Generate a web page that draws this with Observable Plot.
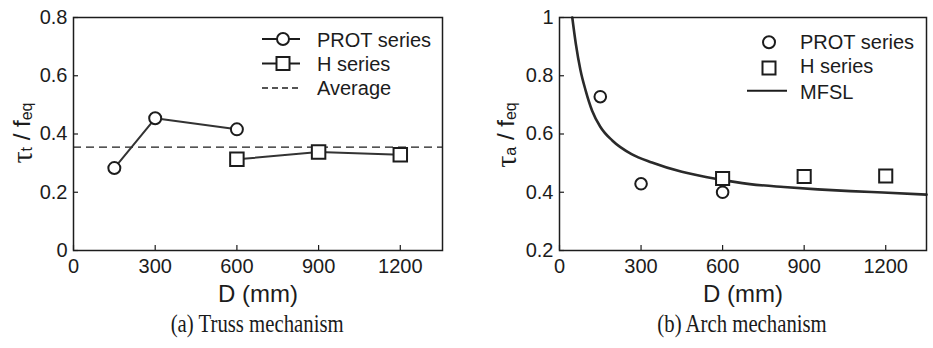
<!DOCTYPE html>
<html>
<head>
<meta charset="utf-8">
<script src="https://cdn.jsdelivr.net/npm/d3@7"></script>
<script src="https://cdn.jsdelivr.net/npm/@observablehq/plot@0.6"></script>
<style>
  html, body { margin: 0; padding: 0; background: #fff; }
  #wrap { display: flex; width: 933px; height: 348px; overflow: hidden; }
  figure { margin: 0; padding: 0; position: relative; }
  figcaption {
    font-family: "Liberation Serif", "Times New Roman", serif;
    font-size: 25px; line-height: 28px; color: #1a1a1a;
    text-align: center; white-space: nowrap;
    position: absolute; top: 310px;
  }
  figcaption span { display: inline-block; transform: scaleX(0.83); }
</style>
</head>
<body>
<div id="wrap"></div>
<script>
// ---- data ----
const xTicks = [0, 300, 600, 900, 1200];
const trussYTicks = [0, 0.2, 0.4, 0.6, 0.8];
const archYTicks = [0.2, 0.4, 0.6, 0.8, 1];

const protD = [150, 300, 600];
const protTruss = [0.283, 0.454, 0.416];
const hD = [600, 900, 1200];
const hTruss = [0.313, 0.338, 0.329];
const trussAverage = 0.355;

const protArch = [0.728, 0.429, 0.400];
const hArch = [0.447, 0.454, 0.456];
const mfslD = [47, 60, 77, 96, 120, 150, 195, 265, 340, 450, 580, 700, 825, 950, 1070, 1190, 1350];
const mfslArch = [1.0, 0.91, 0.82, 0.75, 0.68, 0.625, 0.577, 0.531, 0.502, 0.47, 0.445, 0.428, 0.418, 0.41, 0.404, 0.399, 0.392];

const seriesNames = ["PROT series", "H series"];
const trussLegend3 = "Average";
const archLegend3 = "MFSL";
const xLabel = "D (mm)";
const captions = ["(a) Truss mechanism", "(b) Arch mechanism"];

// ---- helpers ----
const ink = "#1c1c1c";
const zip = (xs, ys) => xs.map((x, i) => ({D: x, v: ys[i]}));
const fmt = d => String(+d.toFixed(1));
const H = 308, MT = 17, MB = 58;

function panel({width, ml, mr, yDomain, yTicks, xDomain, marks}) {
  const frameW = width - ml - mr, frameH = H - MT - MB;
  return Plot.plot({
    width, height: H,
    marginLeft: ml, marginRight: mr, marginTop: MT, marginBottom: MB,
    style: {fontFamily: "'Liberation Sans', Arial, sans-serif", fontSize: "20px", color: ink, background: "white", overflow: "visible"},
    x: {domain: xDomain, ticks: xTicks},
    y: {domain: yDomain, ticks: yTicks},
    marks: [
      Plot.axisX(xTicks, {tickSize: 0, tickPadding: 8, fontSize: 20, label: null, tickFormat: d => String(d), fill: ink}),
      Plot.axisY(yTicks, {tickSize: 0, tickPadding: 6, fontSize: 20, label: null, tickFormat: fmt, fill: ink}),
      Plot.tickX(xTicks, {x: d => d, insetTop: frameH - 5, stroke: ink, strokeWidth: 1.2}),
      Plot.tickY(yTicks, {y: d => d, insetRight: frameW - 5, stroke: ink, strokeWidth: 1.2}),
      ...marks,
      Plot.frame({stroke: ink, strokeWidth: 1.5}),
      Plot.text([xLabel], {text: d => d, frameAnchor: "bottom", lineAnchor: "middle", dy: 44, fontSize: 24, fill: ink})
    ]
  });
}

function yLabel(svg, x, y, sub1, sub2) {
  const t = d3.select(svg).append("text")
    .attr("transform", `translate(${x},${y}) rotate(-90)`)
    .attr("text-anchor", "middle")
    .attr("dominant-baseline", "central")
    .attr("fill", ink)
    .style("font-family", "'Liberation Sans', Arial, sans-serif")
    .style("font-size", "24px");
  t.append("tspan").text("τ").style("font-family", "'Liberation Serif', serif").style("font-size", "30px");
  t.append("tspan").text(sub1).attr("dy", 5).style("font-size", "16px");
  t.append("tspan").text(" / f").attr("dy", -5);
  t.append("tspan").text(sub2).attr("dy", 5).style("font-size", "16px");
}

function legendRow(g, kind, lineX1, lineX2, markX, y, textX, baseY, label, dashed) {
  if (kind.line) {
    g.append("line").attr("x1", lineX1).attr("x2", lineX2).attr("y1", y).attr("y2", y)
      .attr("stroke", ink).attr("stroke-width", dashed ? 1.3 : 2)
      .attr("stroke-dasharray", dashed ? "6,4" : null);
  }
  if (kind.symbol === "circle") {
    g.append("circle").attr("cx", markX).attr("cy", y).attr("r", 6)
      .attr("fill", "white").attr("stroke", ink).attr("stroke-width", 2);
  } else if (kind.symbol === "square") {
    g.append("rect").attr("x", markX - 6.5).attr("y", y - 6.5).attr("width", 13).attr("height", 13)
      .attr("fill", "white").attr("stroke", ink).attr("stroke-width", 2);
  }
  g.append("text").attr("x", textX).attr("y", baseY).text(label)
    .attr("text-anchor", "start")
    .attr("fill", ink).style("font-family", "'Liberation Sans', Arial, sans-serif").style("font-size", "20px");
}

// ---- (a) Truss ----
const protTrussData = zip(protD, protTruss);
const hTrussData = zip(hD, hTruss);
const svgA = panel({
  width: 466, ml: 73, mr: 24, xDomain: [0, 1355], yDomain: [0, 0.8], yTicks: trussYTicks,
  marks: [
    Plot.ruleY([trussAverage], {stroke: ink, strokeWidth: 1.3, strokeDasharray: "8,5"}),
    Plot.line(protTrussData, {x: "D", y: "v", stroke: "#333", strokeWidth: 2}),
    Plot.line(hTrussData, {x: "D", y: "v", stroke: "#333", strokeWidth: 2}),
    Plot.dot(protTrussData, {x: "D", y: "v", symbol: "circle", r: 6, fill: "white", stroke: ink, strokeWidth: 2}),
    Plot.dot(hTrussData, {x: "D", y: "v", symbol: "square", r: 7.6, fill: "white", stroke: ink, strokeWidth: 2})
  ]
});
yLabel(svgA, 21, 133, "t", "eq");
{
  const g = d3.select(svgA).append("g");
  legendRow(g, {line: true, symbol: "circle"}, 262, 300, 283, 39, 317, 47, seriesNames[0]);
  legendRow(g, {line: true, symbol: "square"}, 262, 300, 283, 63.5, 317, 70.5, seriesNames[1]);
  legendRow(g, {line: true}, 262, 300, 0, 88, 317, 95, trussLegend3, true);
}

// ---- (b) Arch ----
const protArchData = zip(protD, protArch);
const hArchData = zip(hD, hArch);
const mfslData = zip(mfslD, mfslArch);
const svgB = panel({
  width: 467, ml: 93, mr: 7, xDomain: [0, 1350], yDomain: [0.2, 1], yTicks: archYTicks,
  marks: [
    Plot.line(mfslData, {x: "D", y: "v", curve: "monotone-x", stroke: "#2a2a2a", strokeWidth: 2.6}),
    Plot.dot(hArchData, {x: "D", y: "v", symbol: "square", r: 7.4, fill: "white", stroke: ink, strokeWidth: 2}),
    Plot.dot(protArchData, {x: "D", y: "v", symbol: "circle", r: 5.8, fill: "white", stroke: ink, strokeWidth: 2})
  ]
});
yLabel(svgB, 39, 135, "a", "eq");
{
  const g = d3.select(svgB).append("g").attr("transform", "translate(-466,0)");
  legendRow(g, {symbol: "circle"}, 0, 0, 769, 42.3, 800, 49, seriesNames[0]);
  legendRow(g, {symbol: "square"}, 0, 0, 769, 68, 800, 73, seriesNames[1]);
  legendRow(g, {line: true}, 747, 787, 0, 90.7, 800, 99, archLegend3);
}

// ---- assemble ----
const wrap = document.getElementById("wrap");
[[svgA, 466, captions[0], 73, 24], [svgB, 467, captions[1], 93, 7]].forEach(([svg, w, cap, ml, mr]) => {
  const fig = document.createElement("figure");
  fig.style.width = w + "px";
  fig.style.height = "348px";
  fig.appendChild(svg);
  const fc = document.createElement("figcaption");
  fc.style.left = ml + "px";
  fc.style.width = (w - ml - mr) + "px";
  const sp = document.createElement("span");
  sp.textContent = cap;
  fc.appendChild(sp);
  fig.appendChild(fc);
  wrap.appendChild(fig);
});
</script>
</body>
</html>
